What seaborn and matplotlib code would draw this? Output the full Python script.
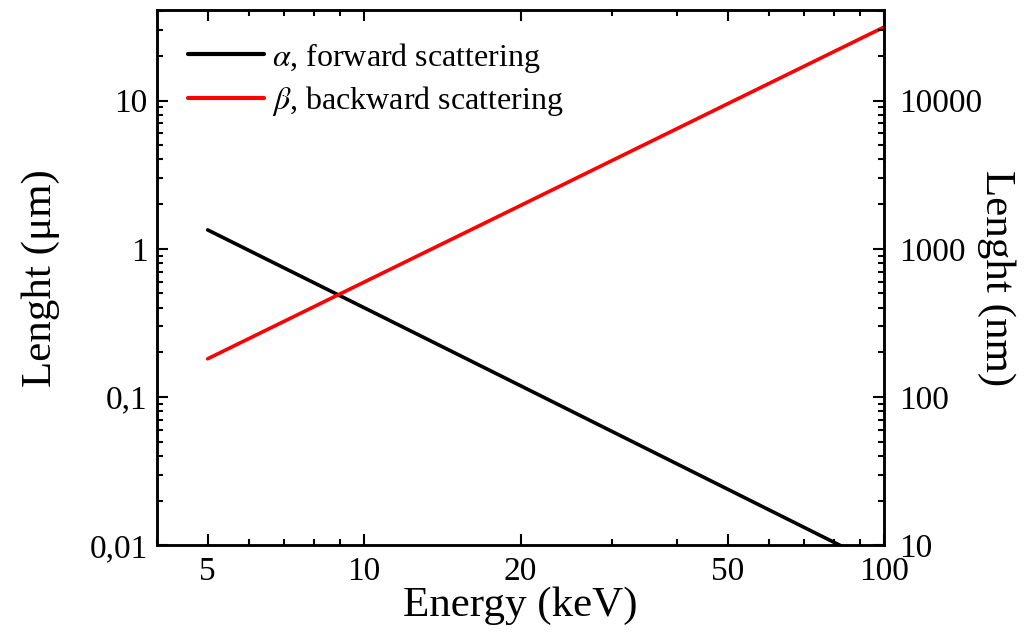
import numpy as np
import pandas as pd
import matplotlib
matplotlib.use("Agg")
import matplotlib.pyplot as plt
import matplotlib.ticker as mticker
import seaborn as sns

# Data
energy_kev = [5, 10, 20, 50, 100]
alpha_um = [1.34, 0.40, 0.119, 0.0239, 0.0071]
beta_um = [0.181, 0.596, 1.96, 9.5, 31.3]
series_labels = [r"$\alpha$, forward scattering", r"$\beta$, backward scattering"]
series_colors = ["#000000", "#ff0000"]
left_ticks = [0.01, 0.1, 1, 10]
left_ticklabels = ["0,01", "0,1", "1", "10"]
right_ticks = [10, 100, 1000, 10000]
right_ticklabels = ["10", "100", "1000", "10000"]
x_ticks = [5, 10, 20, 50, 100]
x_ticklabels = ["5", "10", "20", "50", "100"]

sns.set_theme(style="ticks")
plt.rcParams["font.family"] = ["Liberation Serif", "DejaVu Serif"]
plt.rcParams["mathtext.fontset"] = "stix"
for k in ["text.color", "axes.labelcolor", "xtick.color", "ytick.color", "axes.edgecolor"]:
    plt.rcParams[k] = "black"

df = pd.DataFrame({
    "Energy": energy_kev * 2,
    "Length": alpha_um + beta_um,
    "Series": [series_labels[0]] * len(energy_kev) + [series_labels[1]] * len(energy_kev),
})

fig = plt.figure(figsize=(10.28, 6.43), dpi=100)
ax = fig.add_axes([0.153, 0.152, 0.707, 0.832])

sns.lineplot(data=df, x="Energy", y="Length", hue="Series",
             palette=dict(zip(series_labels, series_colors)),
             linewidth=2.6, ax=ax, legend=True)

ax.set_xscale("log")
ax.set_yscale("log")
ax.set_xlim(4, 100)
ax.set_ylim(0.01, 40.6)

ax.xaxis.set_major_locator(mticker.FixedLocator(x_ticks))
ax.xaxis.set_major_formatter(mticker.FixedFormatter(x_ticklabels))
ax.xaxis.set_minor_locator(mticker.LogLocator(base=10, subs=np.arange(2, 10)))
ax.xaxis.set_minor_formatter(mticker.NullFormatter())
ax.yaxis.set_major_locator(mticker.FixedLocator(left_ticks))
ax.yaxis.set_major_formatter(mticker.FixedFormatter(left_ticklabels))
ax.yaxis.set_minor_locator(mticker.LogLocator(base=10, subs=np.arange(2, 10)))
ax.yaxis.set_minor_formatter(mticker.NullFormatter())

ax.tick_params(axis="x", which="both", direction="in", top=True, bottom=True,
               labelsize=24, pad=8, width=1.5, color="black")
ax.tick_params(axis="y", which="both", direction="in", left=True, right=False,
               labelsize=24, pad=7, width=1.5, color="black")
ax.tick_params(which="major", length=8)
ax.tick_params(which="minor", length=4.5)

for s in ax.spines.values():
    s.set_linewidth(1.8)
    s.set_color("black")

ax.set_xlabel("Energy (keV)", fontsize=31, labelpad=0)
ax.set_ylabel("Lenght (μm)", fontsize=31, labelpad=21)

leg = ax.legend(loc="upper left", frameon=False, fontsize=23,
                handlelength=2.4, handletextpad=0.25,
                labelspacing=0.3, bbox_to_anchor=(0.0, 1.0),
                borderaxespad=0.55)
for line in leg.get_lines():
    line.set_linewidth(3)

ax2 = ax.twinx()
ax2.set_yscale("log")
ax2.set_ylim(10, 40600)
ax2.yaxis.set_major_locator(mticker.FixedLocator(right_ticks))
ax2.yaxis.set_major_formatter(mticker.FixedFormatter(right_ticklabels))
ax2.yaxis.set_minor_locator(mticker.LogLocator(base=10, subs=np.arange(2, 10)))
ax2.yaxis.set_minor_formatter(mticker.NullFormatter())
ax2.tick_params(axis="y", which="both", direction="in", labelsize=24, pad=11,
                width=1.5, color="black")
ax2.tick_params(which="major", length=8)
ax2.tick_params(which="minor", length=4.5)
for s in ax2.spines.values():
    s.set_linewidth(1.8)
ax2.set_ylabel("Lenght (nm)", fontsize=31, rotation=270, labelpad=24)

fig.savefig("out.png", dpi=100)
